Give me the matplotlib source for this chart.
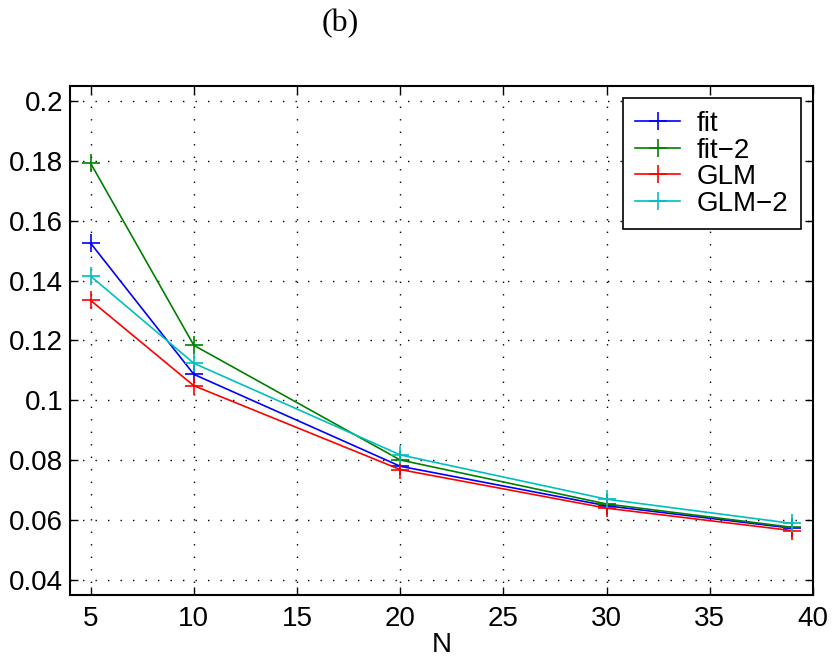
import matplotlib
matplotlib.use('Agg')
import matplotlib.pyplot as plt

# sample sizes and error values
N = [5, 10, 20, 30, 39]
fit = [0.1525, 0.1087, 0.0780, 0.0648, 0.0573]
fit2 = [0.1792, 0.1184, 0.0801, 0.0654, 0.0576]
glm = [0.1334, 0.1049, 0.0769, 0.0640, 0.0565]
glm2 = [0.1415, 0.1124, 0.0818, 0.0670, 0.0589]
labels = ['fit', 'fit\u22122', 'GLM', 'GLM\u22122']

plt.rcParams['font.family'] = ['Liberation Sans', 'DejaVu Sans']

fig = plt.figure(figsize=(8.32, 6.64), dpi=100)
ax = fig.add_axes([0.0841, 0.1039, 0.8931, 0.7666])

series = [fit, fit2, glm, glm2]
colors = ['#0000ff', '#008000', '#ff0000', '#00bfbf']
for yy, c, lab in zip(series, colors, labels):
    ax.plot(N, yy, color=c, marker='+', markersize=13, markeredgewidth=1.2,
            linewidth=1.2, label=lab)

ax.set_xlim(4, 40)
ax.set_ylim(0.035, 0.205)
ax.set_xticks([5, 10, 15, 20, 25, 30, 35, 40])
ax.set_yticks([0.04, 0.06, 0.08, 0.1, 0.12, 0.14, 0.16, 0.18, 0.2])
ax.set_yticklabels(['0.04', '0.06', '0.08', '0.1', '0.12', '0.14', '0.16', '0.18', '0.2'])
ax.tick_params(direction='in', length=6, width=1, labelsize=20, top=True, right=True)
ax.tick_params(axis='y', pad=5)
ax.tick_params(axis='x', pad=8)
for s in ax.spines.values():
    s.set_linewidth(1.5)
ax.grid(True, color='black', linestyle=(0, (1, 8)), linewidth=1)
ax.set_xlabel('N', fontsize=20, labelpad=0)

leg = ax.legend(loc='upper right', fontsize=20, fancybox=False, edgecolor='black',
                framealpha=1, borderaxespad=0.45, handlelength=1.6, labelspacing=0.02,
                borderpad=0.45, handletextpad=0.6)
leg.get_frame().set_linewidth(1.2)

fig.text(0.409, 0.964, '(b)', ha='center', va='center', fontsize=23, family='Liberation Serif')

plt.savefig('out.png', dpi=100)
